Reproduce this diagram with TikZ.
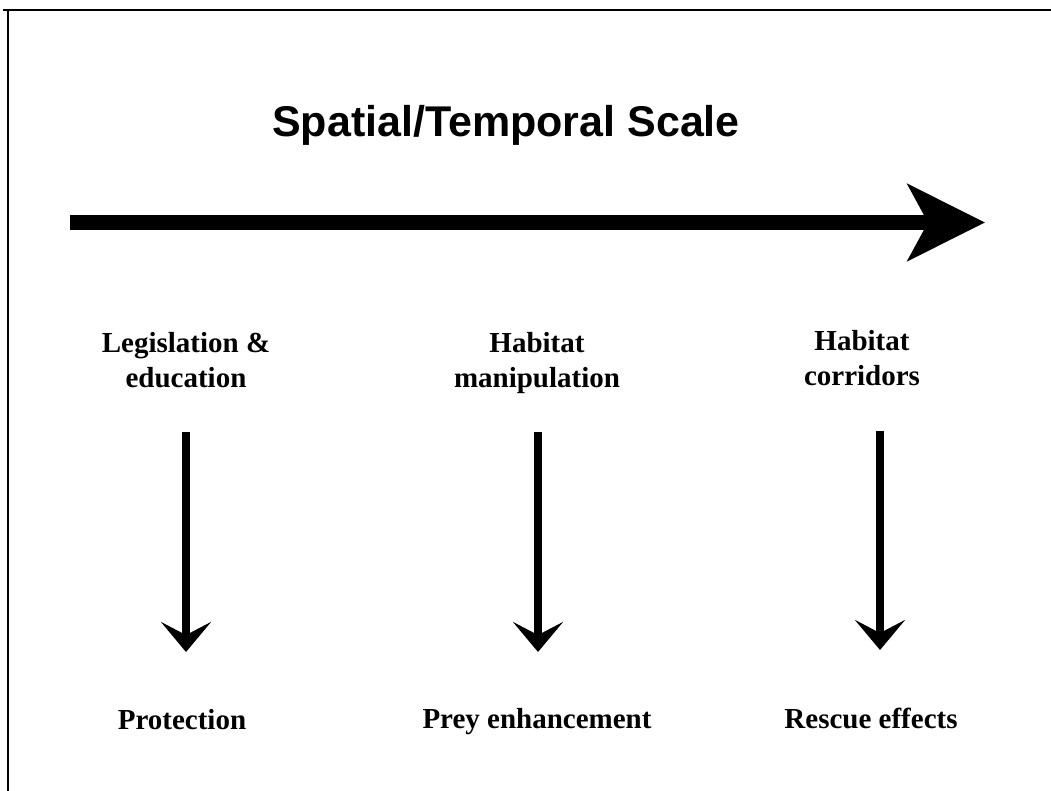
\documentclass[tikz,border=0pt]{standalone}
\usepackage{fontspec}
\setmainfont{Liberation Serif}
\newfontfamily\sansbold{Liberation Sans}
\usetikzlibrary{arrows.meta}
\begin{document}
\begin{tikzpicture}[x=1pt,y=-1pt,
  titlestyle/.style={font=\sansbold\bfseries\fontsize{43}{50}\selectfont, inner sep=0pt, anchor=base},
  headstyle/.style={font=\bfseries\fontsize{29}{35}\selectfont, align=center, inner sep=0pt, anchor=north},
  footstyle/.style={font=\bfseries\fontsize{29}{35}\selectfont, inner sep=0pt, anchor=base},
  downarrow/.style={line width=8pt, -{Stealth[length=30pt,width=50pt,inset=13pt]}},
  bigarrow/.style={line width=15pt, -{Stealth[length=77pt,width=76pt,inset=20pt]}},
  frameline/.style={line width=1.5pt}]
\fill[white] (0,0) rectangle (1051,791);
\useasboundingbox (0,0) rectangle (1051,791);
% frame (top and left edges)
\draw[frameline] (3,10) -- (1051,10);
\draw[frameline] (8,10) -- (8,791);
% title
\node[titlestyle] (title) at (506,137) {Spatial/Temporal Scale};
% big arrow
\coordinate (bigs) at (70,222.5);
\coordinate (bige) at (985,222.5);
\draw[bigarrow] (bigs) -- (bige);
% headers
\node[headstyle] (h1) at (186,332) {Legislation \&\\education};
\node[headstyle] (h2) at (537,332) {Habitat\\manipulation};
\node[headstyle] (h3) at (862,330) {Habitat\\corridors};
% outcomes
\node[footstyle] (b1) at (182,729) {Protection};
\node[footstyle] (b2) at (537,728) {Prey enhancement};
\node[footstyle] (b3) at (871,728) {Rescue effects};
% down arrows
\coordinate (a1s) at (186,432);
\coordinate (a1e) at (186,652);
\coordinate (a2s) at (538,432);
\coordinate (a2e) at (538,652);
\coordinate (a3s) at (880,431);
\coordinate (a3e) at (880,650);
\draw[downarrow] (a1s) -- (a1e);
\draw[downarrow] (a2s) -- (a2e);
\draw[downarrow] (a3s) -- (a3e);
\end{tikzpicture}
\end{document}
